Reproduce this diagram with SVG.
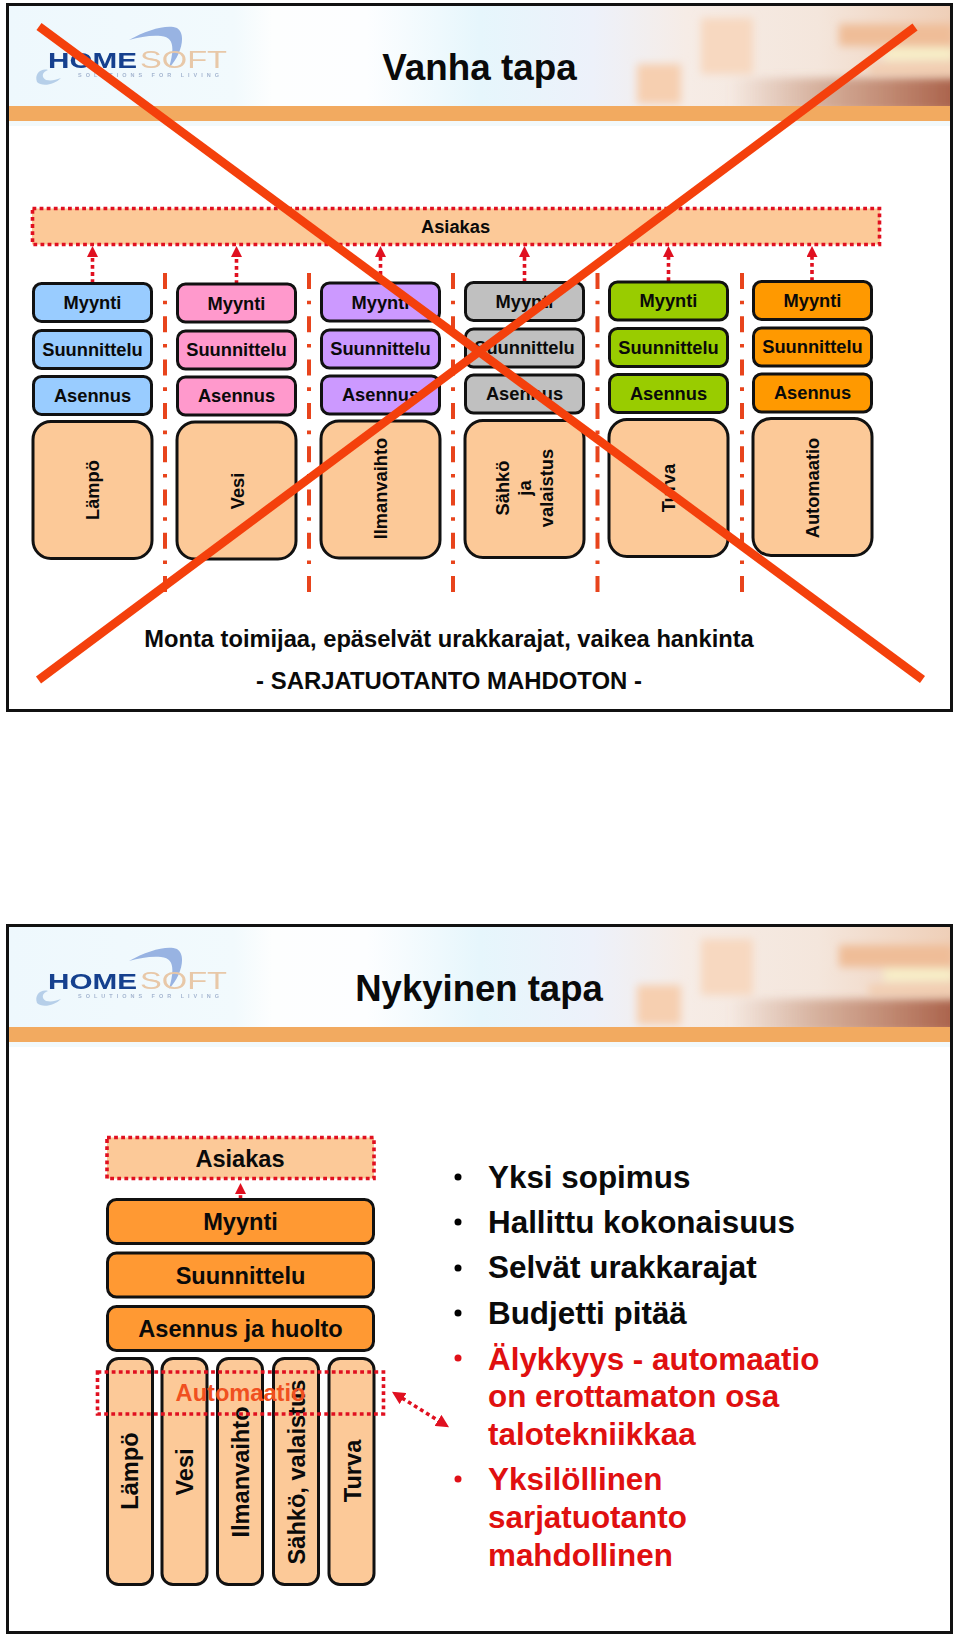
<svg xmlns="http://www.w3.org/2000/svg" width="960" height="1635" viewBox="0 0 960 1635">
<style>
text{font-family:"Liberation Sans",Arial,sans-serif;font-weight:700;fill:#0a0a0a;text-anchor:middle}
.panel{fill:#fff;stroke:#111;stroke-width:3}
.b{stroke:#111;stroke-width:3}
.s18{font-size:18.3px}
.s23{font-size:23.6px}
.blt{font-size:31.4px;text-anchor:start}
.red{fill:#e01010}
.div{stroke:#e8441c;stroke-width:4;stroke-dasharray:16 11.7 3.6 12;fill:none}
.dot{stroke:#e01020;stroke-width:3.6;stroke-dasharray:3.8 3.3;fill:none}
.cross{stroke:#f4400c;stroke-width:8.5;fill:none}
.tall{fill:#fcc998}
.bar{fill:#f2aa60}
.home{font-size:22px;fill:#123f8e;text-anchor:start}
.soft{font-size:24px;fill:#e8c8a8;text-anchor:start;font-weight:400}
.tag{font-size:5.5px;fill:#a5b6d0;text-anchor:start;letter-spacing:1px}
</style>
<defs>
<linearGradient id="hdr" x1="0" x2="1" y1="0" y2="0">
<stop offset="0" stop-color="#eef8fd"/><stop offset=".24" stop-color="#f2fafd"/><stop offset=".28" stop-color="#fdfefe"/><stop offset=".38" stop-color="#fdfeff"/><stop offset=".5" stop-color="#e6f6fc"/><stop offset=".62" stop-color="#edf1fa"/><stop offset=".72" stop-color="#f6ece6"/><stop offset=".86" stop-color="#f4e6dc"/><stop offset="1" stop-color="#efcfb8"/>
</linearGradient>
<linearGradient id="shade" x1="0" x2="1" y1="0" y2="0">
<stop offset="0" stop-color="#c08a70" stop-opacity="0"/><stop offset=".4" stop-color="#c08a70" stop-opacity=".6"/><stop offset="1" stop-color="#a85f48" stop-opacity="1"/>
</linearGradient>
<clipPath id="hc"><rect x="0" y="0" width="941" height="100"/></clipPath>
<filter id="blur" x="-30%" y="-30%" width="160%" height="160%"><feGaussianBlur stdDeviation="4"/></filter>
<filter id="soft" x="-20%" y="-20%" width="140%" height="140%"><feGaussianBlur stdDeviation=".6"/></filter>
<marker id="ah" viewBox="0 0 11 11" refX="1" refY="5.5" markerWidth="11" markerHeight="11" markerUnits="userSpaceOnUse" orient="auto"><path d="M0 0L11 5.5L0 11z" fill="#e01020"/></marker>
<marker id="ah2" viewBox="0 0 11 11" refX="1" refY="5.5" markerWidth="13" markerHeight="13" markerUnits="userSpaceOnUse" orient="auto-start-reverse"><path d="M0 0L11 5.5L0 11z" fill="#e01020"/></marker>
<g id="header">
<rect x="0" y="0" width="941" height="100" fill="url(#hdr)"/>
<g clip-path="url(#hc)">
<g filter="url(#blur)">
<rect x="628" y="58" width="44" height="40" fill="#f6cfb0"/>
<rect x="692" y="12" width="52" height="56" fill="#f7d8c0"/>
<rect x="830" y="18" width="115" height="22" fill="#efbd98"/>
<rect x="875" y="42" width="70" height="12" fill="#f8f0c8"/>
<rect x="860" y="58" width="85" height="10" fill="#f2cdb0"/>
<rect x="720" y="72" width="230" height="34" fill="url(#shade)"/>
</g>
</g>
<rect x="0" y="100" width="941" height="15" class="bar"/>
<rect x="0" y="115" width="941" height="5" fill="#f2f9fb"/>
<path d="M120 34C138 24 158 18 168 22C178 28 172 50 160 62C165 44 166 31 152 30C142 29 131 31 120 34Z" fill="#7396d8" opacity=".7" filter="url(#soft)"/>
<path d="M28 76C25 68 32 62 39 64C33 66 32 71 37 74C43 75 46 74 52 72C45 79 33 81 28 76Z" fill="#a8c4e4" opacity=".8"/>
<text class="home" x="39" y="62" textLength="89" lengthAdjust="spacingAndGlyphs" filter="url(#soft)">HOME</text>
<text class="soft" x="131" y="62" textLength="87" lengthAdjust="spacingAndGlyphs" filter="url(#soft)">SOFT</text>
<text class="tag" x="69" y="71" textLength="142" filter="url(#soft)">SOLUTIONS FOR LIVING</text>
</g>
</defs>

<g id="slide-1">
<rect class="panel" x="7.5" y="4.5" width="944" height="706"/>
<use href="#header" x="9" y="6"/>
<g id="asiakas-top"><rect x="32" y="208.500" width="848" height="36" fill="#fcc998"/><rect class="dot" x="32.500" y="208.500" width="847" height="36"/><text class="s18" x="455.500" y="233">Asiakas</text></g>

<g id="connectors-top">
<path class="div" d="M165 273V592"/><path class="div" d="M309 273V592"/><path class="div" d="M453 273V592"/><path class="div" d="M597.500 273V592"/><path class="div" d="M742 273V592"/>
<path class="dot" d="M92.500 283V256" marker-end="url(#ah)"/><path class="dot" d="M236.500 284V256" marker-end="url(#ah)"/><path class="dot" d="M380.500 282V256" marker-end="url(#ah)"/><path class="dot" d="M524.500 282V256" marker-end="url(#ah)"/><path class="dot" d="M668.500 281V256" marker-end="url(#ah)"/><path class="dot" d="M812 281V256" marker-end="url(#ah)"/>
</g>

<g id="col-lampo" fill="#99ccff">
<rect class="b" x="33.500" y="283.500" width="118" height="38" rx="8"/><text class="s18" x="92.500" y="309">Myynti</text>
<rect class="b" x="33.500" y="330.500" width="118" height="38" rx="8"/><text class="s18" x="92.500" y="356">Suunnittelu</text>
<rect class="b" x="33.500" y="376.500" width="118" height="38" rx="8"/><text class="s18" x="92.500" y="402">Asennus</text>
<rect class="b tall" x="33" y="421.500" width="119" height="137" rx="18"/><text class="s18" transform="translate(99 490) rotate(-90)">Lämpö</text>
</g>
<g id="col-vesi" fill="#ff99cc">
<rect class="b" x="177.500" y="284" width="118" height="38" rx="8"/><text class="s18" x="236.500" y="310">Myynti</text>
<rect class="b" x="177.500" y="331" width="118" height="38" rx="8"/><text class="s18" x="236.500" y="356">Suunnittelu</text>
<rect class="b" x="177.500" y="377" width="118" height="38" rx="8"/><text class="s18" x="236.500" y="402">Asennus</text>
<rect class="b tall" x="177" y="422" width="119" height="137" rx="18"/><text class="s18" transform="translate(243.500 491) rotate(-90)">Vesi</text>
</g>
<g id="col-ilmanvaihto" fill="#cc99ff">
<rect class="b" x="321.500" y="283" width="118" height="38" rx="8"/><text class="s18" x="380.500" y="309">Myynti</text>
<rect class="b" x="321.500" y="330" width="118" height="38" rx="8"/><text class="s18" x="380.500" y="355">Suunnittelu</text>
<rect class="b" x="321.500" y="376" width="118" height="38" rx="8"/><text class="s18" x="380.500" y="401">Asennus</text>
<rect class="b tall" x="321" y="421" width="119" height="137" rx="18"/><text class="s18" transform="translate(387 488.500) rotate(-90)">Ilmanvaihto</text>
</g>
<g id="col-sahko" fill="#c0c0c0">
<rect class="b" x="465.500" y="282.500" width="118" height="38" rx="8"/><text class="s18" x="524.500" y="308">Myynti</text>
<rect class="b" x="465.500" y="329" width="118" height="38" rx="8"/><text class="s18" x="524.500" y="354">Suunnittelu</text>
<rect class="b" x="465.500" y="375" width="118" height="38" rx="8"/><text class="s18" x="524.500" y="400">Asennus</text>
<rect class="b tall" x="465" y="420.500" width="119" height="137" rx="18"/>
<text class="s18" transform="translate(509 488) rotate(-90)">Sähkö</text><text class="s18" transform="translate(531 488) rotate(-90)">ja</text><text class="s18" transform="translate(553 488) rotate(-90)">valaistus</text>
</g>
<g id="col-turva" fill="#99cc00">
<rect class="b" x="609.500" y="282" width="118" height="38" rx="8"/><text class="s18" x="668.500" y="307">Myynti</text>
<rect class="b" x="609.500" y="328.500" width="118" height="38" rx="8"/><text class="s18" x="668.500" y="354">Suunnittelu</text>
<rect class="b" x="609.500" y="374.500" width="118" height="38" rx="8"/><text class="s18" x="668.500" y="400">Asennus</text>
<rect class="b tall" x="609" y="419.500" width="119" height="137" rx="18"/><text class="s18" transform="translate(675 488) rotate(-90)">Turva</text>
</g>
<g id="col-automaatio" fill="#ff9900">
<rect class="b" x="753.500" y="281.500" width="118" height="38" rx="8"/><text class="s18" x="812.500" y="307">Myynti</text>
<rect class="b" x="753.500" y="328" width="118" height="38" rx="8"/><text class="s18" x="812.500" y="353">Suunnittelu</text>
<rect class="b" x="753.500" y="374" width="118" height="38" rx="8"/><text class="s18" x="812.500" y="399">Asennus</text>
<rect class="b tall" x="753" y="418.500" width="119" height="137" rx="18"/><text class="s18" transform="translate(819 488) rotate(-90)">Automaatio</text>
</g>
<g id="title-1">
<text x="479.500" y="79.500" font-size="36.800">Vanha tapa</text>
<text x="449" y="646.500" font-size="23.700">Monta toimijaa, epäselvät urakkarajat, vaikea hankinta</text>
<text x="449" y="688.500" font-size="23.900">- SARJATUOTANTO MAHDOTON -</text>
</g>
<g id="cross"><path class="cross" d="M39 26.500L922.500 679.500"/><path class="cross" d="M915 27L38.500 680"/></g>
</g>

<g id="slide-2">
<rect class="panel" x="7.500" y="925.500" width="944" height="707"/>
<use href="#header" x="9" y="927"/>
<text x="479" y="1001" font-size="36.500">Nykyinen tapa</text>
<g id="asiakas-2"><rect x="107" y="1137.500" width="267" height="41" fill="#fcc998"/><rect class="dot" x="107" y="1137.500" width="267" height="41"/><text class="s23" x="240" y="1167">Asiakas</text></g>
<g id="connector-2"><path class="dot" d="M240.500 1199V1193" marker-end="url(#ah)"/></g>
<g id="myynti-2" fill="#ff9933"><rect class="b" x="107.500" y="1199.500" width="266" height="44" rx="9"/><text class="s23" x="240.500" y="1230">Myynti</text></g>
<g id="suunnittelu-2" fill="#ff9933"><rect class="b" x="107.500" y="1253" width="266" height="44" rx="9"/><text class="s23" x="240.500" y="1284">Suunnittelu</text></g>
<g id="asennus-2" fill="#ff9933"><rect class="b" x="107.500" y="1306.500" width="266" height="44" rx="9"/><text class="s23" x="240.500" y="1337">Asennus ja huolto</text></g>
<g id="lampo-2"><rect class="b tall" x="107.500" y="1358.500" width="45" height="226" rx="11"/><text class="s23" transform="translate(138 1471) rotate(-90)">Lämpö</text></g>
<g id="vesi-2"><rect class="b tall" x="162" y="1358.500" width="45" height="226" rx="11"/><text class="s23" transform="translate(193 1472) rotate(-90)">Vesi</text></g>
<g id="ilmanvaihto-2"><rect class="b tall" x="217.500" y="1358.500" width="45" height="226" rx="11"/><text class="s23" transform="translate(249 1472) rotate(-90)">Ilmanvaihto</text></g>
<g id="sahko-2"><rect class="b tall" x="273.500" y="1358.500" width="45" height="226" rx="11"/><text class="s23" transform="translate(305 1472) rotate(-90)">Sähkö, valaistus</text></g>
<g id="turva-2"><rect class="b tall" x="329" y="1358.500" width="45" height="226" rx="11"/><text class="s23" transform="translate(361 1471) rotate(-90)">Turva</text></g>
<g id="automaatio-2"><rect class="dot" x="97.500" y="1372" width="286" height="42"/><text class="s23" x="240.500" y="1400.500" style="fill:#f05020">Automaatio</text></g>
<g id="connector-3"><path class="dot" d="M402 1398L439 1421" marker-start="url(#ah2)" marker-end="url(#ah2)"/></g>
<g id="bullets">
<circle cx="458" cy="1177" r="3.500"/><text class="blt" x="488" y="1188">Yksi sopimus</text>
<circle cx="458" cy="1222" r="3.500"/><text class="blt" x="488" y="1233">Hallittu kokonaisuus</text>
<circle cx="458" cy="1268" r="3.500"/><text class="blt" x="488" y="1278">Selvät urakkarajat</text>
<circle cx="458" cy="1313" r="3.500"/><text class="blt" x="488" y="1324">Budjetti pitää</text>
<circle cx="458" cy="1358" r="3.500" fill="#e01018"/><text class="blt red" x="488" y="1370">Älykkyys - automaatio</text>
<text class="blt red" x="488" y="1407">on erottamaton osa</text>
<text class="blt red" x="488" y="1445">talotekniikkaa</text>
<circle cx="458" cy="1479" r="3.500" fill="#e01018"/><text class="blt red" x="488" y="1490">Yksilöllinen</text>
<text class="blt red" x="488" y="1528">sarjatuotanto</text>
<text class="blt red" x="488" y="1566">mahdollinen</text>
</g>
</g>
</svg>
